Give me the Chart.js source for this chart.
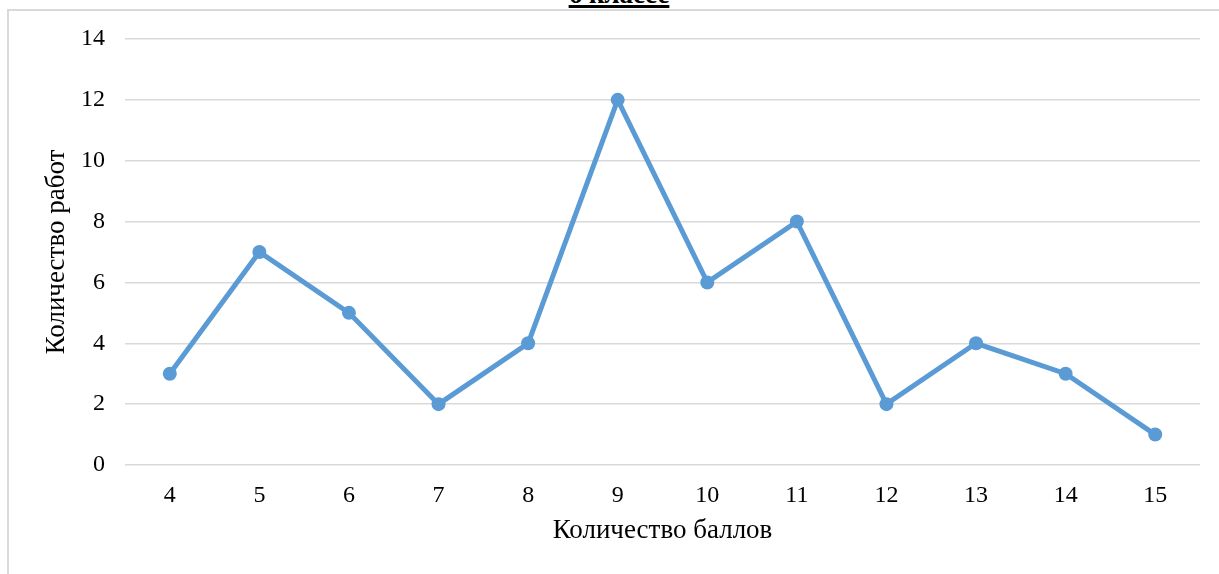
<!DOCTYPE html>
<html>
<head>
<meta charset="utf-8">
<script src="https://cdn.jsdelivr.net/npm/chart.js@4/dist/chart.umd.min.js"></script>
<style>
  html, body { margin: 0; padding: 0; background: #fff; overflow: hidden; }
  #ramka { position: absolute; left: 7px; top: 9px; width: 1300px; height: 700px;
           border-left: 2px solid #d9d9d9; border-top: 2px solid #d9d9d9; }
  #titulo { position: absolute; left: 0; width: 1238px; top: -19px; text-align: center;
            font: bold 27px "Liberation Serif", "Times New Roman", serif; line-height: 27px;
            text-decoration: underline; text-decoration-thickness: 3px; color: #000; }
  #lienzo { position: absolute; left: 0; top: 0; }
</style>
</head>
<body>
<div id="ramka"></div>
<div id="titulo">6 классе</div>
<canvas id="lienzo" width="1219" height="574"></canvas>
<script>
// Datos
const baly = ["4", "5", "6", "7", "8", "9", "10", "11", "12", "13", "14", "15"];
const rabot = [3, 7, 5, 2, 4, 12, 6, 8, 2, 4, 3, 1];
const tituloX = "Количество баллов";
const tituloY = "Количество работ";

const fuente = "'Liberation Serif', 'Times New Roman', serif";

const ctx = document.querySelector("#lienzo").getContext("2d");

const grafico = new Chart(ctx, {
  type: "line",
  data: {
    labels: baly,
    datasets: [
      {
        label: tituloY,
        data: rabot,
        borderColor: "#5b9bd5",
        backgroundColor: "#5b9bd5",
        borderWidth: 5,
        pointRadius: 7,
        pointBorderWidth: 0,
        tension: 0,
        fill: false,
      },
    ],
  },
  options: {
    responsive: false,
    animation: false,
    layout: { padding: { top: 39, right: 19, left: 0, bottom: 0 } },
    plugins: {
      legend: { display: false },
      tooltip: { enabled: false },
    },
    scales: {
      x: {
        offset: true,
        grid: { display: false, drawTicks: false },
        border: { display: false },
        ticks: { color: "#000", font: { family: fuente, size: 24 }, padding: 16, maxRotation: 0 },
        title: { display: true, text: tituloX, color: "#000", font: { family: fuente, size: 27 }, padding: { top: 0, bottom: 27 } },
        afterFit: (escala) => { escala.height = 109; },
      },
      y: {
        min: 0,
        max: 14,
        ticks: { stepSize: 2, color: "#000", font: { family: fuente, size: 24 }, padding: 20 },
        grid: { color: "#d9d9d9", lineWidth: 1.5, drawTicks: false },
        border: { display: false },
        title: { display: true, text: tituloY, color: "#000", font: { family: fuente, size: 27 }, padding: { top: 41, bottom: 0 } },
        afterFit: (escala) => { escala.width = 125; },
      },
    },
  },
});
</script>
</body>
</html>
